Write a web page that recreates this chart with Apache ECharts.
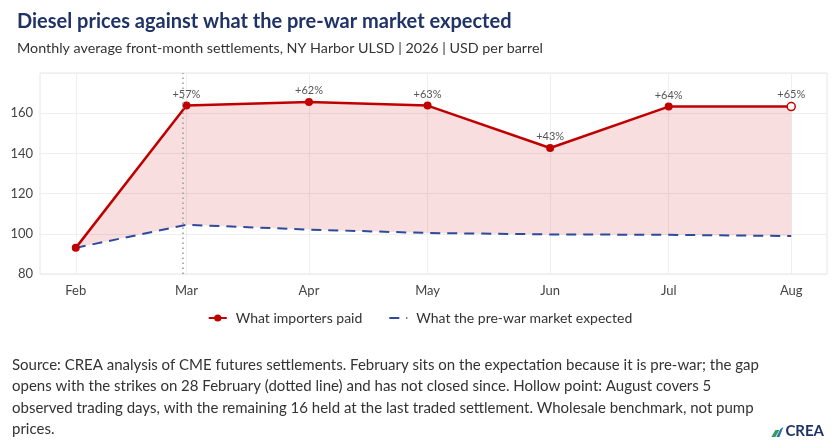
<!DOCTYPE html>
<html>
<head>
<meta charset="utf-8">
<script src="https://cdn.jsdelivr.net/npm/echarts@6/dist/echarts.min.js"></script>
<style>
  html, body { margin: 0; padding: 0; background: #fff; }
  #chart { width: 840px; height: 448px; }
</style>
</head>
<body>
<div id="chart"></div>
<script>
// Diesel: what importers paid vs the pre-war expectation, 2026
const months = ["2026-02-01", "2026-03-01", "2026-04-01", "2026-05-01", "2026-06-01", "2026-07-01", "2026-08-01"]
const monthLabels = ["Feb", "Mar", "Apr", "May", "Jun", "Jul", "Aug"]
const paid = [93.0, 163.8, 165.6, 163.8, 142.7, 163.3, 163.3]
const expected = [93.0, 104.5, 102.1, 100.4, 99.7, 99.5, 98.9]
const gapLabels = ["", "+57%", "+62%", "+63%", "+43%", "+64%", "+65%"]
const yTicks = [80, 100, 120, 140, 160]
const strikeDate = "2026-02-28"
const hollowIndex = 6 // August: partial month

const RED = "#C00000"
const BLUE = "#2E4A9B"
const FONT = "Lato, 'Noto Sans', sans-serif"

document.addEventListener("DOMContentLoaded", () => {
    const chart = echarts.init(document.getElementById("chart"))

    const times = months.map((m) => new Date(m + "T00:00:00Z").getTime())
    const span = times[times.length - 1] - times[0]
    const xMin = times[0] - span * 0.05
    const xMax = times[times.length - 1] + span * 0.05

    const paidData = paid.map((v, i) => {
        const point = { value: [times[i], v], label: { formatter: gapLabels[i] } }
        if (i === hollowIndex) {
            point.itemStyle = { color: "#fff", borderColor: RED, borderWidth: 1.5 }
        }
        return point
    })

    // shaded gap between the two lines, drawn as one polygon in axis coordinates
    const renderGap = (params, api) => {
        const top = paid.map((v, i) => api.coord([times[i], v]))
        const bottom = expected.map((v, i) => api.coord([times[i], v])).reverse()
        return {
            type: "polygon",
            shape: { points: top.concat(bottom) },
            style: { fill: "rgba(204, 0, 0, 0.13)" },
        }
    }

    const option = {
        backgroundColor: "#fff",
        textStyle: { fontFamily: FONT },
        title: [
            {
                text: "Diesel prices against what the pre-war market expected",
                left: 12,
                top: 7,
                textStyle: { fontFamily: FONT, fontSize: 20, fontWeight: "bold", color: "#1F3366" },
            },
            {
                text: "Monthly average front-month settlements, NY Harbor ULSD | 2026 | USD per barrel",
                left: 12,
                top: 36,
                textStyle: { fontFamily: FONT, fontSize: 14.3, fontWeight: "normal", color: "#333" },
            },
        ],
        legend: {
            bottom: 118,
            left: "center",
            itemGap: 26,
            itemWidth: 18,
            itemHeight: 9,
            textStyle: { fontFamily: FONT, fontSize: 14, color: "#333", padding: [0, 0, 0, 4] },
            data: [
                { name: "What importers paid" },
                { name: "What the pre-war market expected", itemStyle: { opacity: 0 } },
            ],
        },
        grid: {
            left: 40,
            right: 13,
            top: 73,
            height: 201,
            show: true,
            borderColor: "#e6e6e6",
            borderWidth: 1,
        },
        xAxis: {
            type: "value",
            min: xMin,
            max: xMax,
            axisLine: { show: false },
            axisTick: { show: false, customValues: times },
            axisLabel: {
                customValues: times,
                formatter: (val) => monthLabels[times.indexOf(val)] || "",
                color: "#444",
                fontSize: 13,
                margin: 10,
                fontFamily: FONT,
            },
            splitLine: { show: true, lineStyle: { color: "#eeeeee" } },
        },
        yAxis: {
            type: "value",
            min: 80,
            max: 180,
            interval: 20,
            axisLine: { show: false },
            axisTick: { show: false },
            axisLabel: {
                color: "#444",
                fontSize: 13,
                margin: 7,
                fontFamily: FONT,
                showMaxLabel: false,
                formatter: (v) => (yTicks.includes(v) ? String(v) : ""),
            },
            splitLine: { lineStyle: { color: "#eeeeee" } },
        },
        series: [
            {
                name: "gap",
                type: "custom",
                renderItem: renderGap,
                data: [[times[0], paid[0]]],
                silent: true,
                z: 1,
            },
            {
                name: "What the pre-war market expected",
                type: "line",
                data: expected.map((v, i) => [times[i], v]),
                symbol: "none",
                color: BLUE,
                lineStyle: { color: BLUE, width: 2, type: [10, 7] },
                z: 3,
            },
            {
                name: "What importers paid",
                type: "line",
                data: paidData,
                symbol: "circle",
                symbolSize: 8,
                color: RED,
                itemStyle: { color: RED },
                lineStyle: { color: RED, width: 2.5 },
                label: {
                    show: true,
                    position: "top",
                    distance: 2,
                    color: "#555",
                    fontSize: 11,
                    fontFamily: FONT,
                },
                markLine: {
                    silent: true,
                    symbol: "none",
                    label: { show: false },
                    lineStyle: { color: "#999", type: [1.5, 3.5], width: 1.5 },
                    data: [{ xAxis: new Date(strikeDate + "T00:00:00Z").getTime() }],
                },
                z: 4,
            },
        ],
        graphic: [
            {
                type: "text",
                left: 12,
                top: 354,
                style: {
                    text:
                        "Source: CREA analysis of CME futures settlements. February sits on the expectation because it is pre-war; the gap\n" +
                        "opens with the strikes on 28 February (dotted line) and has not closed since. Hollow point: August covers 5\n" +
                        "observed trading days, with the remaining 16 held at the last traded settlement. Wholesale benchmark, not pump\n" +
                        "prices.",
                    font: "15px " + FONT,
                    fill: "#333",
                    lineHeight: 21.5,
                },
            },
            {
                type: "group",
                right: 16,
                top: 424,
                children: [
                    { type: "polygon", shape: { points: [[0, 12], [4, 5], [8, 5], [4, 12]] }, style: { fill: "#2E9E5B" } },
                    { type: "polygon", shape: { points: [[5, 12], [9, 4], [12, 2], [8, 12]] }, style: { fill: "#2D6FB7" } },
                    {
                        type: "text",
                        x: 14,
                        y: -1,
                        style: { text: "CREA", font: "bold 15px " + FONT, fill: "#1F3366" },
                    },
                ],
            },
        ],
    }

    chart.setOption(option)

    window.addEventListener("resize", () => {
        chart.resize()
    })
})
</script>
</body>
</html>
